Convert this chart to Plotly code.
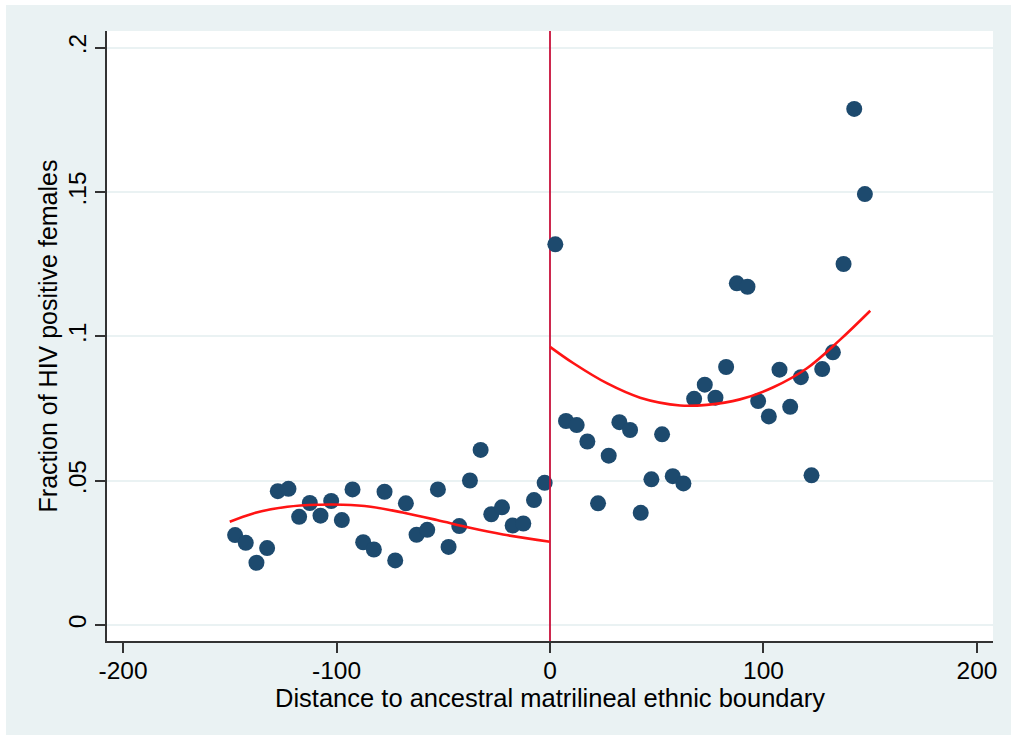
import plotly.graph_objects as go

# ---- data ----
left_x = [-147.5, -142.5, -137.5, -132.5, -127.5, -122.5, -117.5, -112.5, -107.5, -102.5,
          -97.5, -92.5, -87.5, -82.5, -77.5, -72.5, -67.5, -62.5, -57.5, -52.5,
          -47.5, -42.5, -37.5, -32.5, -27.5, -22.5, -17.5, -12.5, -7.5, -2.5]
left_y = [0.0312, 0.0285, 0.0216, 0.0267, 0.0464, 0.0472, 0.0375, 0.0423, 0.0379, 0.0430,
          0.0364, 0.0470, 0.0287, 0.0262, 0.0462, 0.0224, 0.0422, 0.0313, 0.0330, 0.0470,
          0.0271, 0.0343, 0.0501, 0.0607, 0.0384, 0.0408, 0.0345, 0.0352, 0.0433, 0.0493]

right_x = [2.5, 7.5, 12.5, 17.5, 22.5, 27.5, 32.5, 37.5, 42.5, 47.5,
           52.5, 57.5, 62.5, 67.5, 72.5, 77.5, 82.5, 87.5, 92.5, 97.5,
           102.5, 107.5, 112.5, 117.5, 122.5, 127.5, 132.5, 137.5, 142.5, 147.5]
right_y = [0.1319, 0.0707, 0.0693, 0.0636, 0.0422, 0.0587, 0.0703, 0.0676, 0.0389, 0.0505,
           0.0661, 0.0516, 0.0491, 0.0784, 0.0833, 0.0788, 0.0894, 0.1184, 0.1172, 0.0776,
           0.0723, 0.0885, 0.0756, 0.0859, 0.0519, 0.0887, 0.0945, 0.1251, 0.1788, 0.1493]

# fitted curves
left_fit_x = [-150, -139, -123, -108, -97, -84, -69, -53, -37.5, -22, 0]
left_fit_y = [0.0358, 0.0387, 0.0410, 0.0417, 0.0417, 0.0410, 0.0390, 0.0364, 0.0337, 0.0314, 0.0289]
right_fit_x = [0, 11, 26.6, 42.2, 61, 73.4, 89, 104.6, 120.2, 135.8, 150]
right_fit_y = [0.0964, 0.0907, 0.0838, 0.0788, 0.0761, 0.0763, 0.0782, 0.0824, 0.0889, 0.0988, 0.1089]

cutoff = 0
cutoff_y = [-0.0055, 0.2058]

x_ticks = [-200, -100, 0, 100, 200]
x_labels = ["-200", "-100", "0", "100", "200"]
y_ticks = [0, 0.05, 0.1, 0.15, 0.2]
y_labels = ["0", ".05", ".1", ".15", ".2"]

x_title = "Distance to ancestral matrilineal ethnic boundary"
y_title = "Fraction of HIV positive females"

# ---- style ----
NAVY = "#1d4a6e"
RED = "#ff1414"
CRANBERRY = "#c8103a"
BG = "#eaf2f3"
AXIS = "#333333"
FONT = "Liberation Sans, Arial, Helvetica, sans-serif"

fig = go.Figure()
fig.add_trace(go.Scatter(x=left_x, y=left_y, mode="markers",
                         marker=dict(color=NAVY, size=16, line=dict(width=0)),
                         showlegend=False))
fig.add_trace(go.Scatter(x=[cutoff, cutoff], y=cutoff_y, mode="lines",
                         line=dict(color=CRANBERRY, width=1.8), showlegend=False))
fig.add_trace(go.Scatter(x=right_x, y=right_y, mode="markers",
                         marker=dict(color=NAVY, size=16, line=dict(width=0)),
                         showlegend=False))
fig.add_trace(go.Scatter(x=left_fit_x, y=left_fit_y, mode="lines",
                         line=dict(color=RED, width=2.6, shape="spline"), showlegend=False))
fig.add_trace(go.Scatter(x=right_fit_x, y=right_fit_y, mode="lines",
                         line=dict(color=RED, width=2.6, shape="spline"), showlegend=False))

L, R, T, B = 107, 18, 31, 94
W, H = 1011, 735
pw, ph = W - L - R, H - T - B

fig.update_layout(
    width=W, height=H,
    margin=dict(l=L, r=R, t=T, b=B, pad=0),
    paper_bgcolor=BG, plot_bgcolor="white",
    font=dict(family=FONT, size=24, color="black"),
    xaxis=dict(range=[-207.5, 207.5], tickvals=x_ticks, ticktext=x_labels,
               showgrid=False, zeroline=False, showline=True, linecolor=AXIS, linewidth=1.5,
               ticks="outside", ticklen=10, tickwidth=1.5, tickcolor=AXIS,
               tickfont=dict(size=24.5), ticklabelstandoff=-3,
               title=dict(text=x_title, font=dict(size=25.5), standoff=4)),
    yaxis=dict(range=cutoff_y, tickvals=y_ticks, ticktext=y_labels, tickangle=-90,
               showgrid=True, gridcolor=BG, gridwidth=1.6,
               zeroline=False, showline=True, linecolor=AXIS, linewidth=1.5,
               ticks="outside", ticklen=10, tickwidth=1.5, tickcolor=AXIS,
               tickfont=dict(size=24.5), ticklabelstandoff=-1,
               title=dict(text=y_title, font=dict(size=25), standoff=0)),
    shapes=[
        dict(type="rect", xref="paper", yref="paper",
             x0=-L / pw - 0.01, x1=(6 - L) / pw, y0=-B / ph - 0.01, y1=(T + ph) / ph + 0.1,
             fillcolor="white", line=dict(width=0), layer="above"),
        dict(type="rect", xref="paper", yref="paper",
             x0=-L / pw - 0.01, x1=1 + R / pw + 0.01, y0=(ph + T - 5) / ph, y1=(ph + T) / ph + 0.01,
             fillcolor="white", line=dict(width=0), layer="above"),
    ],
)

fig.write_html("out.html")
